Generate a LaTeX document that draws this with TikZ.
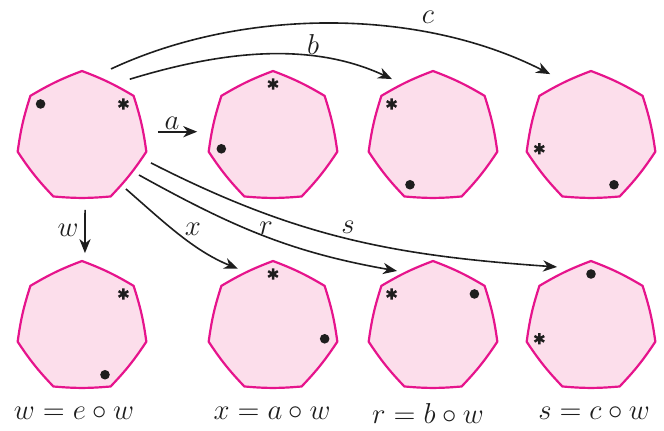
\documentclass[tikz,border=0pt]{standalone}
\usetikzlibrary{arrows.meta}
\definecolor{hfill}{RGB}{252,222,235}
\definecolor{hline}{RGB}{230,20,140}
\definecolor{ink}{RGB}{30,30,30}
\newcommand\heptashape[5]{% name, x, y, asterisk angle, dot angle
  \node[hnode] (#1) at (#2,#3) {};
  \begin{scope}[shift={(#2,#3)}]
    \path[hshape] (90:66)
      to[bend right=5] (141.4286:66) to[bend right=5] (192.8571:66)
      to[bend right=5] (244.2857:66) to[bend right=5] (295.7143:66)
      to[bend right=5] (347.1429:66) to[bend right=5] (38.5714:66)
      to[bend right=5] (90:66) -- cycle;
    \begin{scope}[shift={(#4:53)}]
      \draw[astline] (90:5.6) -- (270:5.6) (30:5.6) -- (210:5.6) (150:5.6) -- (330:5.6);
    \end{scope}
    \fill[ink] (#5:53) circle (4.8);
  \end{scope}}
\begin{document}
\begin{tikzpicture}[x=0.5pt,y=0.5pt,
  hnode/.style={circle,inner sep=0pt,minimum size=66pt},
  hshape/.style={fill=hfill,draw=hline,line width=1.1pt,line join=miter},
  astline/.style={draw=ink,line width=1.25pt},
  conn/.style={draw=ink,line width=0.8pt,-{Stealth[length=7pt,width=5.6pt,inset=2.2pt]}},
  lbl/.style={inner sep=0pt,font=\fontsize{14}{16}\selectfont,text=ink},
  caption/.style={inner sep=0pt,font=\fontsize{14}{16}\selectfont,text=ink}]
\useasboundingbox (0,0) rectangle (664,430);
% top row
\heptashape{h1}{82}{293}{38.5714}{141.4286}
\heptashape{h2}{273}{293}{90}{192.8571}
\heptashape{h3}{433}{293}{141.4286}{244.2857}
\heptashape{h4}{591}{293}{192.8571}{295.7143}
% bottom row
\heptashape{b1}{82}{103}{38.5714}{295.7143}
\heptashape{b2}{273}{103}{90}{347.1429}
\heptashape{b3}{433}{103}{141.4286}{38.5714}
\heptashape{b4}{591}{103}{192.8571}{90}
% connectors
\draw[conn] ([shift={(4:76)}]h1.center) -- ([shift={(176:76)}]h2.center);
\draw[conn] ([shift={(50.4:75)}]h1.center) to[out=17,in=155,looseness=0.9] ([shift={(125.3:71)}]h3.center);
\draw[conn] ([shift={(66.9:74)}]h1.center) to[out=25,in=153,looseness=0.85] ([shift={(123:75)}]h4.center);
\draw[conn] ([shift={(-87.6:73)}]h1.center) -- ([shift={(87.7:74)}]b1.center);
\draw[conn] ([shift={(-49.8:68)}]h1.center) to[out=-41,in=158,looseness=0.9] ([shift={(121:68)}]b2.center);
\draw[conn] ([shift={(-33.7:68.5)}]h1.center) to[out=-29,in=170] ([shift={(122.7:66.6)}]b3.center);
\draw[conn] ([shift={(-20.6:73.7)}]h1.center) to[out=-27,in=176] ([shift={(119.5:69)}]b4.center);
% labels
\node[lbl] (la) at (172,307) {$a$};
\node[lbl] (lb) at (313,386) {$b$};
\node[lbl] (lc) at (428,413) {$c$};
\node[lbl] (lw) at (68,200) {$w$};
\node[lbl] (lx) at (193,201) {$x$};
\node[lbl] (lr) at (266,202) {$r$};
\node[lbl] (ls) at (348,203) {$s$};
% captions
\node[caption] (cw) at (74,17) {$w=e\circ w$};
\node[caption] (cx) at (272,17) {$x=a\circ w$};
\node[caption] (cr) at (428,17) {$r=b\circ w$};
\node[caption] (cs) at (594,17) {$s=c\circ w$};
\end{tikzpicture}
\end{document}
